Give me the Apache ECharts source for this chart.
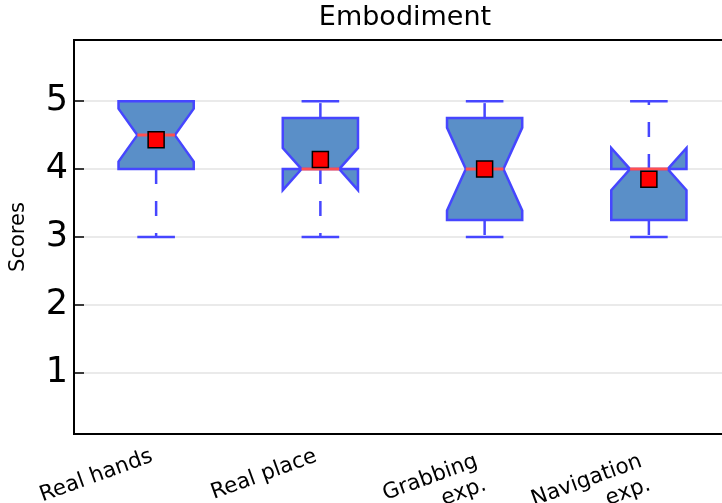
<!DOCTYPE html>
<html>
<head>
<meta charset="utf-8">
<script src="https://cdn.jsdelivr.net/npm/echarts@6/dist/echarts.min.js"></script>
<style>
  html, body { margin: 0; padding: 0; background: #fff; }
  #chart { width: 722px; height: 503px; }
</style>
</head>
<body>
<div id="chart"></div>
<script>
// Embodiment questionnaire scores per condition (notched box plot + mean)
const categories = ['Real hands', 'Real place', 'Grabbing\nexp.', 'Navigation\nexp.'];
const whiskerLow = [3, 3, 3, 3];
const q1 = [4, 4, 3.25, 3.25];
const medians = [4.5, 4, 4, 4];
const q3 = [5, 4.75, 4.75, 4];
const whiskerHigh = [5, 5, 5, 5];
const notchLow = [4.11, 3.69, 3.39, 3.69];
const notchHigh = [4.89, 4.31, 4.61, 4.31];
const means = [4.43, 4.14, 4.0, 3.85];
const yTicks = [1, 2, 3, 4, 5];
const yMin = 0.1, yMax = 5.9;

const FONT = 'DejaVu Sans';
const EDGE = '#4646ff';
const FILL = '#5a8fc8';
const MEDIAN = '#ff5050';

const LABEL_ROTATE = 20;
const LABEL_LINE = 25;
const LABEL_PAD = 10;

const boxData = categories.map((c, i) => [
  i, whiskerLow[i], q1[i], medians[i], q3[i], whiskerHigh[i], notchLow[i], notchHigh[i]
]);

function renderBox(params, api) {
  const idx = api.value(0);
  const cx = api.coord([idx, 0])[0];
  const band = api.size([1, 0])[0];
  const halfBox = band * 0.229;
  const halfNotch = halfBox * 0.5;
  const y = v => api.coord([idx, v])[1];
  const lo = y(api.value(1)), b1 = y(api.value(2)), med = y(api.value(3));
  const b3 = y(api.value(4)), hi = y(api.value(5));
  const nLo = y(api.value(6)), nHi = y(api.value(7));
  const L = cx - halfBox, R = cx + halfBox;
  const NL = cx - halfNotch, NR = cx + halfNotch;

  const whiskerStyle = { stroke: EDGE, lineWidth: 2.5, lineDash: [15, 17] };
  const capStyle = { stroke: EDGE, lineWidth: 2.5 };
  return {
    type: 'group',
    children: [
      { type: 'line', shape: { x1: cx, y1: b1, x2: cx, y2: lo }, style: whiskerStyle },
      { type: 'line', shape: { x1: cx, y1: b3, x2: cx, y2: hi }, style: whiskerStyle },
      { type: 'line', shape: { x1: cx - halfNotch, y1: lo, x2: cx + halfNotch, y2: lo }, style: capStyle },
      { type: 'line', shape: { x1: cx - halfNotch, y1: hi, x2: cx + halfNotch, y2: hi }, style: capStyle },
      {
        type: 'polygon',
        shape: {
          points: [
            [L, b1], [L, nLo], [NL, med], [L, nHi], [L, b3],
            [R, b3], [R, nHi], [NR, med], [R, nLo], [R, b1]
          ]
        },
        style: { fill: FILL, stroke: EDGE, lineWidth: 2.5, lineJoin: 'miter' }
      },
      { type: 'line', shape: { x1: NL, y1: med, x2: NR, y2: med }, style: { stroke: MEDIAN, lineWidth: 3 } }
    ]
  };
}

const chart = echarts.init(document.getElementById('chart'), null, { renderer: 'canvas' });
chart.setOption({
  animation: false,
  backgroundColor: '#fff',
  grid: {
    left: 74, top: 40, width: 657, height: 394,
    outerBoundsMode: 'none', containLabel: false,
    show: true, borderColor: '#000', borderWidth: 2, backgroundColor: 'transparent'
  },
  graphic: [
    {
      id: 'title', type: 'text', x: 405, y: 18,
      style: {
        text: 'Embodiment', font: '27px "' + FONT + '"', fill: '#000',
        align: 'center', verticalAlign: 'middle'
      }
    },
    {
      id: 'yname', type: 'text', x: 19, y: 237, rotation: Math.PI / 2,
      style: {
        text: 'Scores', font: '21px "' + FONT + '"', fill: '#000',
        align: 'center', verticalAlign: 'middle'
      }
    }
  ],
  xAxis: {
    type: 'category',
    data: categories,
    boundaryGap: true,
    axisLine: { lineStyle: { color: '#000', width: 2 } },
    axisTick: { inside: true, alignWithLabel: true, length: 10, lineStyle: { color: '#000', width: 1.5 } },
    axisLabel: { show: false },
    splitLine: { show: false }
  },
  yAxis: {
    type: 'value',
    min: yMin, max: yMax,
    axisLine: { show: true, lineStyle: { color: '#000', width: 2 } },
    axisTick: { show: true, inside: true, length: 10, customValues: yTicks, lineStyle: { color: '#000', width: 1.5 } },
    axisLabel: { customValues: yTicks, margin: 6, fontFamily: FONT, fontSize: 35, color: '#000' },
    splitLine: { show: true, lineStyle: { color: '#e3e3e3', width: 1.5 } }
  },
  series: [
    {
      type: 'custom',
      renderItem: renderBox,
      data: boxData,
      encode: { x: 0, y: [1, 2, 3, 4, 5] },
      z: 2
    },
    {
      type: 'scatter',
      data: means,
      symbol: 'rect',
      symbolSize: 16,
      itemStyle: { color: '#ff0000', borderColor: '#000', borderWidth: 1.5, opacity: 1 },
      z: 3
    }
  ]
});

// Category tick labels: rotated text hung from the top-right corner of its
// bounding box, right edge of that box near the tick position.
const rot = LABEL_ROTATE * Math.PI / 180;
const axisBottom = chart.convertToPixel({ yAxisIndex: 0 }, yMin);
chart.setOption({
  graphic: categories.map((name, i) => {
    const tickX = chart.convertToPixel({ xAxisIndex: 0 }, i);
    const extra = name.split('\n').length - 1;
    return {
      id: 'xlabel' + i, type: 'text',
      x: tickX - LABEL_LINE * Math.sin(rot) * (1 + 0.4 * extra),
      y: axisBottom + LABEL_PAD + 5 * extra,
      rotation: rot,
      style: {
        text: name, font: '21.5px "' + FONT + '"', fill: '#000',
        align: 'right', verticalAlign: 'top', lineHeight: LABEL_LINE
      }
    };
  })
});
</script>
</body>
</html>
